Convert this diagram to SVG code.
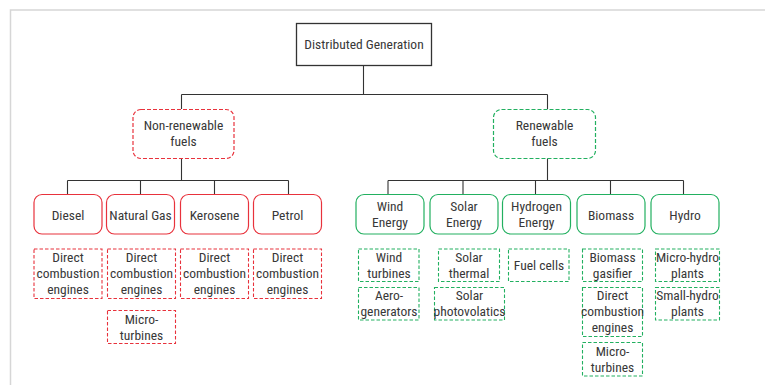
<svg xmlns="http://www.w3.org/2000/svg" width="765" height="385" viewBox="0 0 765 385">
<style>
text{font-family:"Roboto Condensed","Liberation Sans Narrow","Liberation Sans",Arial,sans-serif;font-size:13.5px;fill:#383838;text-anchor:middle}
.con{stroke:#333;stroke-width:1.1;fill:none}
.root{fill:#fff;stroke:#333;stroke-width:1.3}
.rp{fill:#fff;stroke:#e8323c;stroke-width:1.2;stroke-dasharray:4 2}
.gp{fill:#fff;stroke:#22b060;stroke-width:1.2;stroke-dasharray:4 2}
.rc{fill:#fff;stroke:#e8323c;stroke-width:1.2}
.gc{fill:#fff;stroke:#22b060;stroke-width:1.2}
.rl{fill:#fff;stroke:#e8323c;stroke-width:1.1;stroke-dasharray:3.5 2}
.gl{fill:#fff;stroke:#22b060;stroke-width:1.1;stroke-dasharray:3.5 2}
</style>
<rect width="765" height="385" fill="#fff"/>
<path d="M10.5 385 V10 H765" fill="none" stroke="#d6d6d6" stroke-width="1.5"/>
<g id="connectors">
<path class="con" d="M363.5 65.5 V94.5 M181.5 94.5 H547.5 M181.5 94.5 V109 M547.5 94.5 V109"/>
<path class="con" d="M181.5 158 V180.5 M67.5 180.5 H288.5 M67.5 180.5 V194 M140.5 180.5 V194 M214.5 180.5 V194 M288.5 180.5 V194"/>
<path class="con" d="M547.5 158 V180.5 M388 180.5 H683.5 M388 180.5 V194 M463 180.5 V194 M535.5 180.5 V194 M610.5 180.5 V194 M683.5 180.5 V194"/>
</g>
<g id="root"><rect class="root" x="296.5" y="23.5" width="135" height="42"/><text x="364" y="49">Distributed Generation</text></g>
<g id="nonrenewable"><rect class="rp" x="133" y="109.5" width="101" height="49" rx="8"/><text x="183.5" y="129.5">Non-renewable</text><text x="183.5" y="146">fuels</text></g>
<g id="renewable"><rect class="gp" x="493.5" y="109.5" width="102" height="49" rx="8"/><text x="544.5" y="129.5">Renewable</text><text x="544.5" y="146">fuels</text></g>
<g id="diesel"><rect class="rc" x="34" y="194.5" width="68" height="39.5" rx="8"/><text x="68" y="219.5">Diesel</text></g>
<g id="naturalgas"><rect class="rc" x="106.5" y="194.5" width="68" height="39.5" rx="8"/><text x="140.5" y="219.5">Natural Gas</text></g>
<g id="kerosene"><rect class="rc" x="180.5" y="194.5" width="68" height="39.5" rx="8"/><text x="214.5" y="219.5">Kerosene</text></g>
<g id="petrol"><rect class="rc" x="253.5" y="194.5" width="68" height="39.5" rx="8"/><text x="287.5" y="219.5">Petrol</text></g>
<g id="wind"><rect class="gc" x="356" y="194.5" width="68" height="39.5" rx="8"/><text x="390" y="211">Wind</text><text x="390" y="226.5">Energy</text></g>
<g id="solar"><rect class="gc" x="430" y="194.5" width="68" height="39.5" rx="8"/><text x="464" y="211">Solar</text><text x="464" y="226.5">Energy</text></g>
<g id="hydrogen"><rect class="gc" x="502.5" y="194.5" width="68" height="39.5" rx="8"/><text x="536.5" y="211">Hydrogen</text><text x="536.5" y="226.5">Energy</text></g>
<g id="biomass"><rect class="gc" x="577" y="194.5" width="68" height="39.5" rx="8"/><text x="611" y="219.5">Biomass</text></g>
<g id="hydro"><rect class="gc" x="651" y="194.5" width="68" height="39.5" rx="8"/><text x="685" y="219.5">Hydro</text></g>
<g id="diesel-dce"><rect class="rl" x="34" y="249" width="68" height="49.5"/><text x="68" y="261.5">Direct</text><text x="68" y="277.5">combustion</text><text x="68" y="294">engines</text></g>
<g id="ng-dce"><rect class="rl" x="107.5" y="249" width="68" height="49.5"/><text x="141.5" y="261.5">Direct</text><text x="141.5" y="277.5">combustion</text><text x="141.5" y="294">engines</text></g>
<g id="ng-mt"><rect class="rl" x="107.5" y="310.5" width="68" height="33"/><text x="141.5" y="324">Micro-</text><text x="141.5" y="340">turbines</text></g>
<g id="ker-dce"><rect class="rl" x="180.5" y="249" width="68" height="49.5"/><text x="214.5" y="261.5">Direct</text><text x="214.5" y="277.5">combustion</text><text x="214.5" y="294">engines</text></g>
<g id="pet-dce"><rect class="rl" x="253.5" y="249" width="68" height="49.5"/><text x="287.5" y="261.5">Direct</text><text x="287.5" y="277.5">combustion</text><text x="287.5" y="294">engines</text></g>
<g id="wind-t"><rect class="gl" x="358.5" y="249" width="60.5" height="32.5"/><text x="389" y="261.5">Wind</text><text x="389" y="277.5">turbines</text></g>
<g id="wind-a"><rect class="gl" x="358.5" y="287.5" width="60.5" height="32.5"/><text x="389" y="300">Aero-</text><text x="389" y="315.5">generators</text></g>
<g id="solar-t"><rect class="gl" x="438.5" y="249" width="61" height="32.5"/><text x="469" y="261.5">Solar</text><text x="469" y="277.5">thermal</text></g>
<g id="solar-p"><rect class="gl" x="434.5" y="287.5" width="70" height="32.5"/><text x="469.5" y="300">Solar</text><text x="469.5" y="315.5">photovolatics</text></g>
<g id="fuelcells"><rect class="gl" x="508.5" y="249" width="60.5" height="32.5"/><text x="539" y="270">Fuel cells</text></g>
<g id="bio-g"><rect class="gl" x="582.5" y="249" width="60" height="32.5"/><text x="612.5" y="261.5">Biomass</text><text x="612.5" y="277.5">gasifier</text></g>
<g id="bio-dce"><rect class="gl" x="582.5" y="287.5" width="60" height="49"/><text x="612.5" y="300">Direct</text><text x="612.5" y="315.5">combustion</text><text x="612.5" y="332">engines</text></g>
<g id="bio-mt"><rect class="gl" x="582.5" y="342.5" width="60" height="33.5"/><text x="612.5" y="355.5">Micro-</text><text x="612.5" y="371.5">turbines</text></g>
<g id="hydro-micro"><rect class="gl" x="655.5" y="249" width="64" height="32.5"/><text x="687.5" y="261.5">Micro-hydro</text><text x="687.5" y="277.5">plants</text></g>
<g id="hydro-small"><rect class="gl" x="655.5" y="287.5" width="64" height="32.5"/><text x="687.5" y="300">Small-hydro</text><text x="687.5" y="315.5">plants</text></g>
</svg>
